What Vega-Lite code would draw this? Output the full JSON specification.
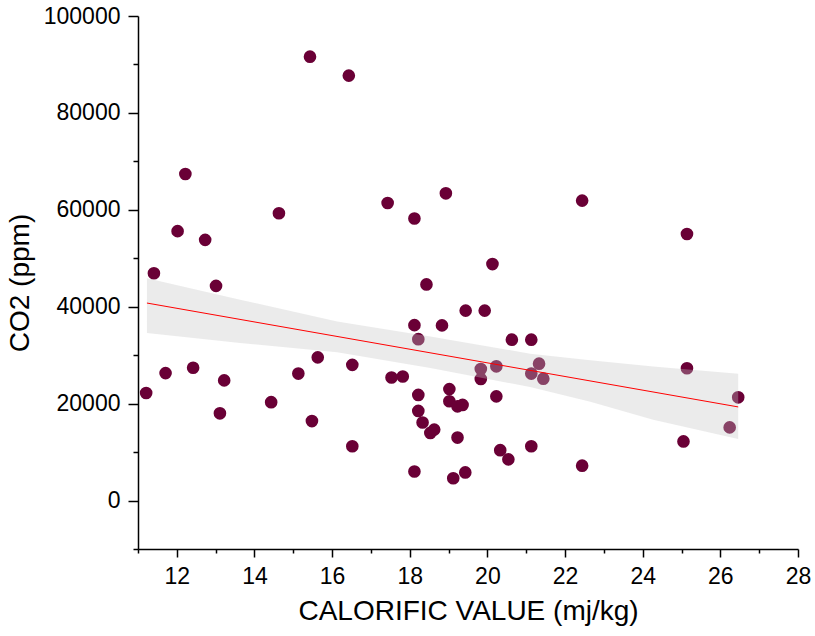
{
  "$schema": "https://vega.github.io/schema/vega-lite/v6.json",
  "width": 660,
  "height": 533,
  "autosize": "none",
  "padding": {"left": 138, "top": 16, "right": 17, "bottom": 87},
  "background": "white",
  "config": {"view": {"stroke": null}},
  "datasets": {
    "pts": [
      {"x": 11.21, "y": 22200}, {"x": 11.41, "y": 46900}, {"x": 11.71, "y": 26300},
      {"x": 12.02, "y": 55600}, {"x": 12.22, "y": 67400}, {"x": 12.42, "y": 27400},
      {"x": 12.73, "y": 53800}, {"x": 13.01, "y": 44300}, {"x": 13.11, "y": 18000},
      {"x": 13.22, "y": 24800}, {"x": 14.43, "y": 20300}, {"x": 14.63, "y": 59300},
      {"x": 15.13, "y": 26200}, {"x": 15.43, "y": 91600}, {"x": 15.48, "y": 16400},
      {"x": 15.63, "y": 29550}, {"x": 16.43, "y": 87700}, {"x": 16.52, "y": 28000},
      {"x": 16.52, "y": 11200}, {"x": 17.43, "y": 61400}, {"x": 17.53, "y": 25400},
      {"x": 17.82, "y": 25600}, {"x": 18.12, "y": 58200}, {"x": 18.12, "y": 36200},
      {"x": 18.22, "y": 33300}, {"x": 18.12, "y": 6000}, {"x": 18.22, "y": 21800},
      {"x": 18.22, "y": 18500}, {"x": 18.33, "y": 16100}, {"x": 18.43, "y": 44600},
      {"x": 18.53, "y": 13950}, {"x": 18.63, "y": 14640}, {"x": 18.83, "y": 36150},
      {"x": 18.93, "y": 63400}, {"x": 19.02, "y": 23000}, {"x": 19.02, "y": 20500},
      {"x": 19.12, "y": 4600}, {"x": 19.23, "y": 19450}, {"x": 19.36, "y": 19730},
      {"x": 19.23, "y": 13000}, {"x": 19.43, "y": 5800}, {"x": 19.44, "y": 39200},
      {"x": 19.93, "y": 39200}, {"x": 20.13, "y": 48800}, {"x": 19.83, "y": 27150},
      {"x": 19.83, "y": 25100}, {"x": 20.23, "y": 27700}, {"x": 20.23, "y": 21500},
      {"x": 20.33, "y": 10400}, {"x": 20.54, "y": 8500}, {"x": 20.63, "y": 33200},
      {"x": 21.13, "y": 33200}, {"x": 21.13, "y": 26200}, {"x": 21.33, "y": 28250},
      {"x": 21.44, "y": 25150}, {"x": 21.13, "y": 11200}, {"x": 22.44, "y": 61900},
      {"x": 22.44, "y": 7200}, {"x": 25.05, "y": 12200}, {"x": 25.14, "y": 55000},
      {"x": 25.14, "y": 27300}, {"x": 26.24, "y": 15100}, {"x": 26.46, "y": 21300}
    ],
    "band": [
      {"x": 11.23, "y": 34580, "y2": 45900},
      {"x": 13.63, "y": 32520, "y2": 41440},
      {"x": 16.13, "y": 30580, "y2": 36970},
      {"x": 18.53, "y": 27360, "y2": 33880},
      {"x": 21.10, "y": 23440, "y2": 30310},
      {"x": 22.65, "y": 20410, "y2": 28930},
      {"x": 24.27, "y": 16700, "y2": 27690},
      {"x": 26.46, "y": 12720, "y2": 26190}
    ],
    "fit": [
      {"x": 11.23, "y": 40760},
      {"x": 26.46, "y": 19320}
    ]
  },
  "encoding": {
    "x": {
      "field": "x", "type": "quantitative",
      "scale": {"domain": [11, 28], "nice": false, "zero": false},
      "axis": {
        "title": "CALORIFIC VALUE (mj/kg)",
        "values": [11,12,13,14,15,16,17,18,19,20,21,22,23,24,25,26,27,28],
        "labelExpr": "datum.value % 2 === 0 ? datum.label : ''",
        "tickSize": {"condition": {"test": "datum.value % 2 === 0", "value": 8}, "value": 4},
        "grid": false,
        "domainColor": "#000", "domainWidth": 1.5,
        "tickColor": "#000", "tickWidth": 1.5,
        "labelFont": "Liberation Sans", "labelFontSize": 23, "labelColor": "#000",
        "labelPadding": 8, "labelFlush": false, "labelOverlap": false,
        "titleFont": "Liberation Sans", "titleFontSize": 28, "titleFontWeight": "normal",
        "titleColor": "#000", "titlePadding": 9
      }
    },
    "y": {
      "field": "y", "type": "quantitative",
      "scale": {"domain": [-10000, 100000], "nice": false, "zero": false},
      "axis": {
        "title": "CO2 (ppm)",
        "values": [-10000,0,10000,20000,30000,40000,50000,60000,70000,80000,90000,100000],
        "labelExpr": "datum.value % 20000 === 0 && datum.value >= 0 ? format(datum.value, 'd') : ''",
        "tickSize": {"condition": {"test": "datum.value % 20000 === 0", "value": 10}, "value": 5},
        "grid": false,
        "domainColor": "#000", "domainWidth": 1.5,
        "tickColor": "#000", "tickWidth": 1.5,
        "labelFont": "Liberation Sans", "labelFontSize": 23, "labelColor": "#000",
        "labelPadding": 8, "labelFlush": false, "labelOverlap": false,
        "titleFont": "Liberation Sans", "titleFontSize": 28, "titleFontWeight": "normal",
        "titleColor": "#000", "titlePadding": 9
      }
    }
  },
  "layer": [
    {
      "data": {"name": "pts"},
      "mark": {"type": "point", "shape": "circle", "filled": true, "size": 160, "color": "#6a0036", "opacity": 1}
    },
    {
      "data": {"name": "band"},
      "mark": {"type": "area", "color": "#c4c4c4", "opacity": 0.34},
      "encoding": {"y2": {"field": "y2"}}
    },
    {
      "data": {"name": "fit"},
      "mark": {"type": "line", "color": "#ff0000", "strokeWidth": 1},
      "encoding": {}
    }
  ]
}
